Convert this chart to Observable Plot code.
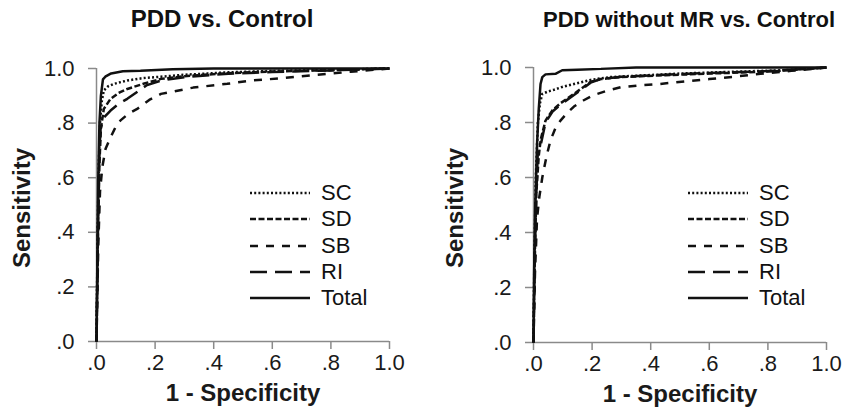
<!DOCTYPE html>
<html><head><meta charset="utf-8">
<script src="https://cdn.jsdelivr.net/npm/d3@7"></script>
<script src="https://cdn.jsdelivr.net/npm/@observablehq/plot@0.6"></script>
<style>
body{margin:0;background:#fff;font-family:"Liberation Sans",Arial,sans-serif;color:#111;}
#wrap{position:relative;width:846px;height:415px;overflow:hidden;background:#fff;}
.panel{position:absolute;top:0;}
.title{position:absolute;font-weight:bold;white-space:nowrap;transform:translateX(-50%);}
.legend{position:absolute;}
.row{display:flex;align-items:center;height:26.3px;font-size:22px;line-height:26px;}
.row svg{margin-right:11px;}
</style></head>
<body><div id="wrap"></div>
<script>
// ---- data ----
const seriesNames = ["SC", "SD", "SB", "RI", "Total"];
const dashPatterns = ["2,2.2", "6,2.5", "8,8", "17,8", null];
const xTicks = [0, 0.2, 0.4, 0.6, 0.8, 1.0];
const yTicks = [0, 0.2, 0.4, 0.6, 0.8, 1.0];
const panelTitles = ["PDD vs. Control", "PDD without MR vs. Control"];
const xLabel = "1 - Specificity";
const yLabel = "Sensitivity";

// Panel 1: PDD vs. Control  [1-specificity, sensitivity]
const pddSC = [[0,0],[0.004,0.4],[0.008,0.65],[0.012,0.8],[0.018,0.88],[0.025,0.92],[0.04,0.935],[0.06,0.944],[0.105,0.956],[0.16,0.965],[0.22,0.97],[0.3,0.977],[0.45,0.986],[0.6,0.991],[0.8,0.995],[1,1]];
const pddSD = [[0,0],[0.005,0.4],[0.01,0.65],[0.015,0.78],[0.025,0.852],[0.048,0.889],[0.075,0.91],[0.105,0.925],[0.16,0.944],[0.22,0.962],[0.3,0.972],[0.45,0.983],[0.6,0.989],[0.8,0.994],[1,1]];
const pddSB = [[0,0],[0.006,0.35],[0.012,0.55],[0.02,0.64],[0.031,0.706],[0.048,0.748],[0.065,0.785],[0.082,0.81],[0.11,0.835],[0.139,0.852],[0.18,0.885],[0.22,0.907],[0.33,0.93],[0.446,0.944],[0.53,0.956],[0.64,0.965],[0.75,0.977],[0.867,0.988],[1,1]];
const pddRI = [[0,0],[0.005,0.4],[0.01,0.7],[0.014,0.78],[0.025,0.82],[0.048,0.846],[0.075,0.87],[0.105,0.889],[0.14,0.915],[0.17,0.938],[0.22,0.956],[0.3,0.968],[0.45,0.981],[0.6,0.987],[0.8,0.993],[1,1]];
const pddTotal = [[0,0],[0.003,0.3],[0.006,0.6],[0.01,0.8],[0.015,0.9],[0.022,0.96],[0.03,0.97],[0.05,0.982],[0.09,0.99],[0.15,0.992],[0.26,0.997],[0.4,1],[1,1]];

// Panel 2: PDD without MR vs. Control
const noMrSC = [[0,0],[0.003,0.3],[0.008,0.6],[0.015,0.8],[0.022,0.87],[0.03,0.904],[0.05,0.913],[0.07,0.919],[0.1,0.93],[0.138,0.94],[0.195,0.955],[0.26,0.965],[0.35,0.97],[0.5,0.978],[0.7,0.985],[0.85,0.99],[1,1]];
const noMrSD = [[0,0],[0.004,0.3],[0.01,0.55],[0.018,0.68],[0.025,0.74],[0.041,0.807],[0.065,0.845],[0.092,0.87],[0.138,0.904],[0.195,0.948],[0.23,0.958],[0.3,0.965],[0.45,0.972],[0.6,0.978],[0.8,0.985],[1,1]];
const noMrSB = [[0,0],[0.005,0.25],[0.012,0.45],[0.02,0.53],[0.03,0.6],[0.045,0.68],[0.058,0.735],[0.075,0.78],[0.092,0.807],[0.115,0.835],[0.138,0.858],[0.17,0.88],[0.206,0.9],[0.25,0.915],[0.297,0.928],[0.36,0.935],[0.43,0.94],[0.52,0.95],[0.6,0.958],[0.69,0.967],[0.775,0.977],[0.88,0.988],[1,1]];
const noMrRI = [[0,0],[0.004,0.3],[0.01,0.55],[0.015,0.7],[0.025,0.72],[0.041,0.8],[0.065,0.84],[0.092,0.865],[0.138,0.9],[0.195,0.945],[0.23,0.958],[0.3,0.966],[0.45,0.974],[0.6,0.98],[0.8,0.987],[1,1]];
const noMrTotal = [[0,0],[0.002,0.25],[0.006,0.5],[0.012,0.72],[0.018,0.85],[0.024,0.94],[0.03,0.965],[0.041,0.975],[0.075,0.977],[0.098,0.99],[0.15,0.992],[0.23,0.995],[0.35,1],[1,1]];

const panelData = [
  [pddSC, pddSD, pddSB, pddRI, pddTotal],
  [noMrSC, noMrSD, noMrSB, noMrRI, noMrTotal]
];

// ---- layout ----
const layouts = [
  {offset:0, left:96, right:34, top:68, bottom:74, titleX:222, titleSize:24, titleTop:5, yLabelX:22, legendX:250, legendY:180},
  {offset:423, left:110, right:20, top:67, bottom:73, titleX:266, titleSize:22, titleTop:6, yLabelX:32, legendX:265, legendY:180}
];
const fmt = d => d === 1 ? "1.0" : d.toFixed(1).replace(/^0/, "");
const axisGray = "#8a8a8a";

const wrap = document.getElementById("wrap");
panelData.forEach((series, p) => {
  const L = layouts[p];
  const chart = Plot.plot({
    width: 423, height: 415,
    marginLeft: L.left, marginRight: L.right, marginTop: L.top, marginBottom: L.bottom,
    x: {domain: [0, 1]}, y: {domain: [0, 1]},
    style: {fontFamily: "'Liberation Sans', Arial, sans-serif", fontSize: "22px", color: "#1a1a1a", background: "white", overflow: "visible"},
    marks: [
      Plot.ruleY([0], {stroke: axisGray, strokeWidth: 1.5}),
      Plot.ruleX([0], {stroke: axisGray, strokeWidth: 1.5}),
      Plot.axisX({ticks: xTicks, tickFormat: fmt, tickSize: 8, tickPadding: 5, stroke: axisGray, strokeWidth: 1.5, label: null, fontSize: 22}),
      Plot.axisY({ticks: yTicks, tickFormat: fmt, tickSize: 8, tickPadding: 14, stroke: axisGray, strokeWidth: 1.5, label: null, fontSize: 22}),
      ...series.map((pts, i) => Plot.line(pts, {
        x: d => d[0], y: d => d[1], stroke: "#111", strokeWidth: 2.5,
        strokeDasharray: dashPatterns[i] || undefined, strokeLinecap: "butt", strokeLinejoin: "miter"
      })),
      Plot.text([yLabel], {frameAnchor: "left", dx: -(L.left - L.yLabelX), dy: 3, rotate: -90, textAnchor: "middle", fontWeight: "bold", fontSize: 24, text: d => d}),
      Plot.text([xLabel], {frameAnchor: "bottom", dy: 59, textAnchor: "middle", fontWeight: "bold", fontSize: 24, text: d => d})
    ]
  });
  const holder = document.createElement("div");
  holder.className = "panel";
  holder.style.left = L.offset + "px";
  holder.appendChild(chart);
  wrap.appendChild(holder);

  const t = document.createElement("div");
  t.className = "title";
  t.style.left = (L.offset + L.titleX) + "px";
  t.style.top = L.titleTop + "px";
  t.style.fontSize = L.titleSize + "px";
  t.style.lineHeight = "28px";
  t.textContent = panelTitles[p];
  wrap.appendChild(t);

  const lg = document.createElement("div");
  lg.className = "legend";
  lg.style.left = (L.offset + L.legendX) + "px";
  lg.style.top = L.legendY + "px";
  seriesNames.forEach((name, i) => {
    const row = document.createElement("div");
    row.className = "row";
    const svg = d3.create("svg").attr("width", 60).attr("height", 10);
    svg.append("line").attr("x1", 0).attr("x2", 60).attr("y1", 5).attr("y2", 5)
      .attr("stroke", "#111").attr("stroke-width", 2.5)
      .attr("stroke-dasharray", dashPatterns[i] || null);
    row.appendChild(svg.node());
    const s = document.createElement("span");
    s.textContent = name;
    row.appendChild(s);
    lg.appendChild(row);
  });
  wrap.appendChild(lg);
});
</script></body></html>
